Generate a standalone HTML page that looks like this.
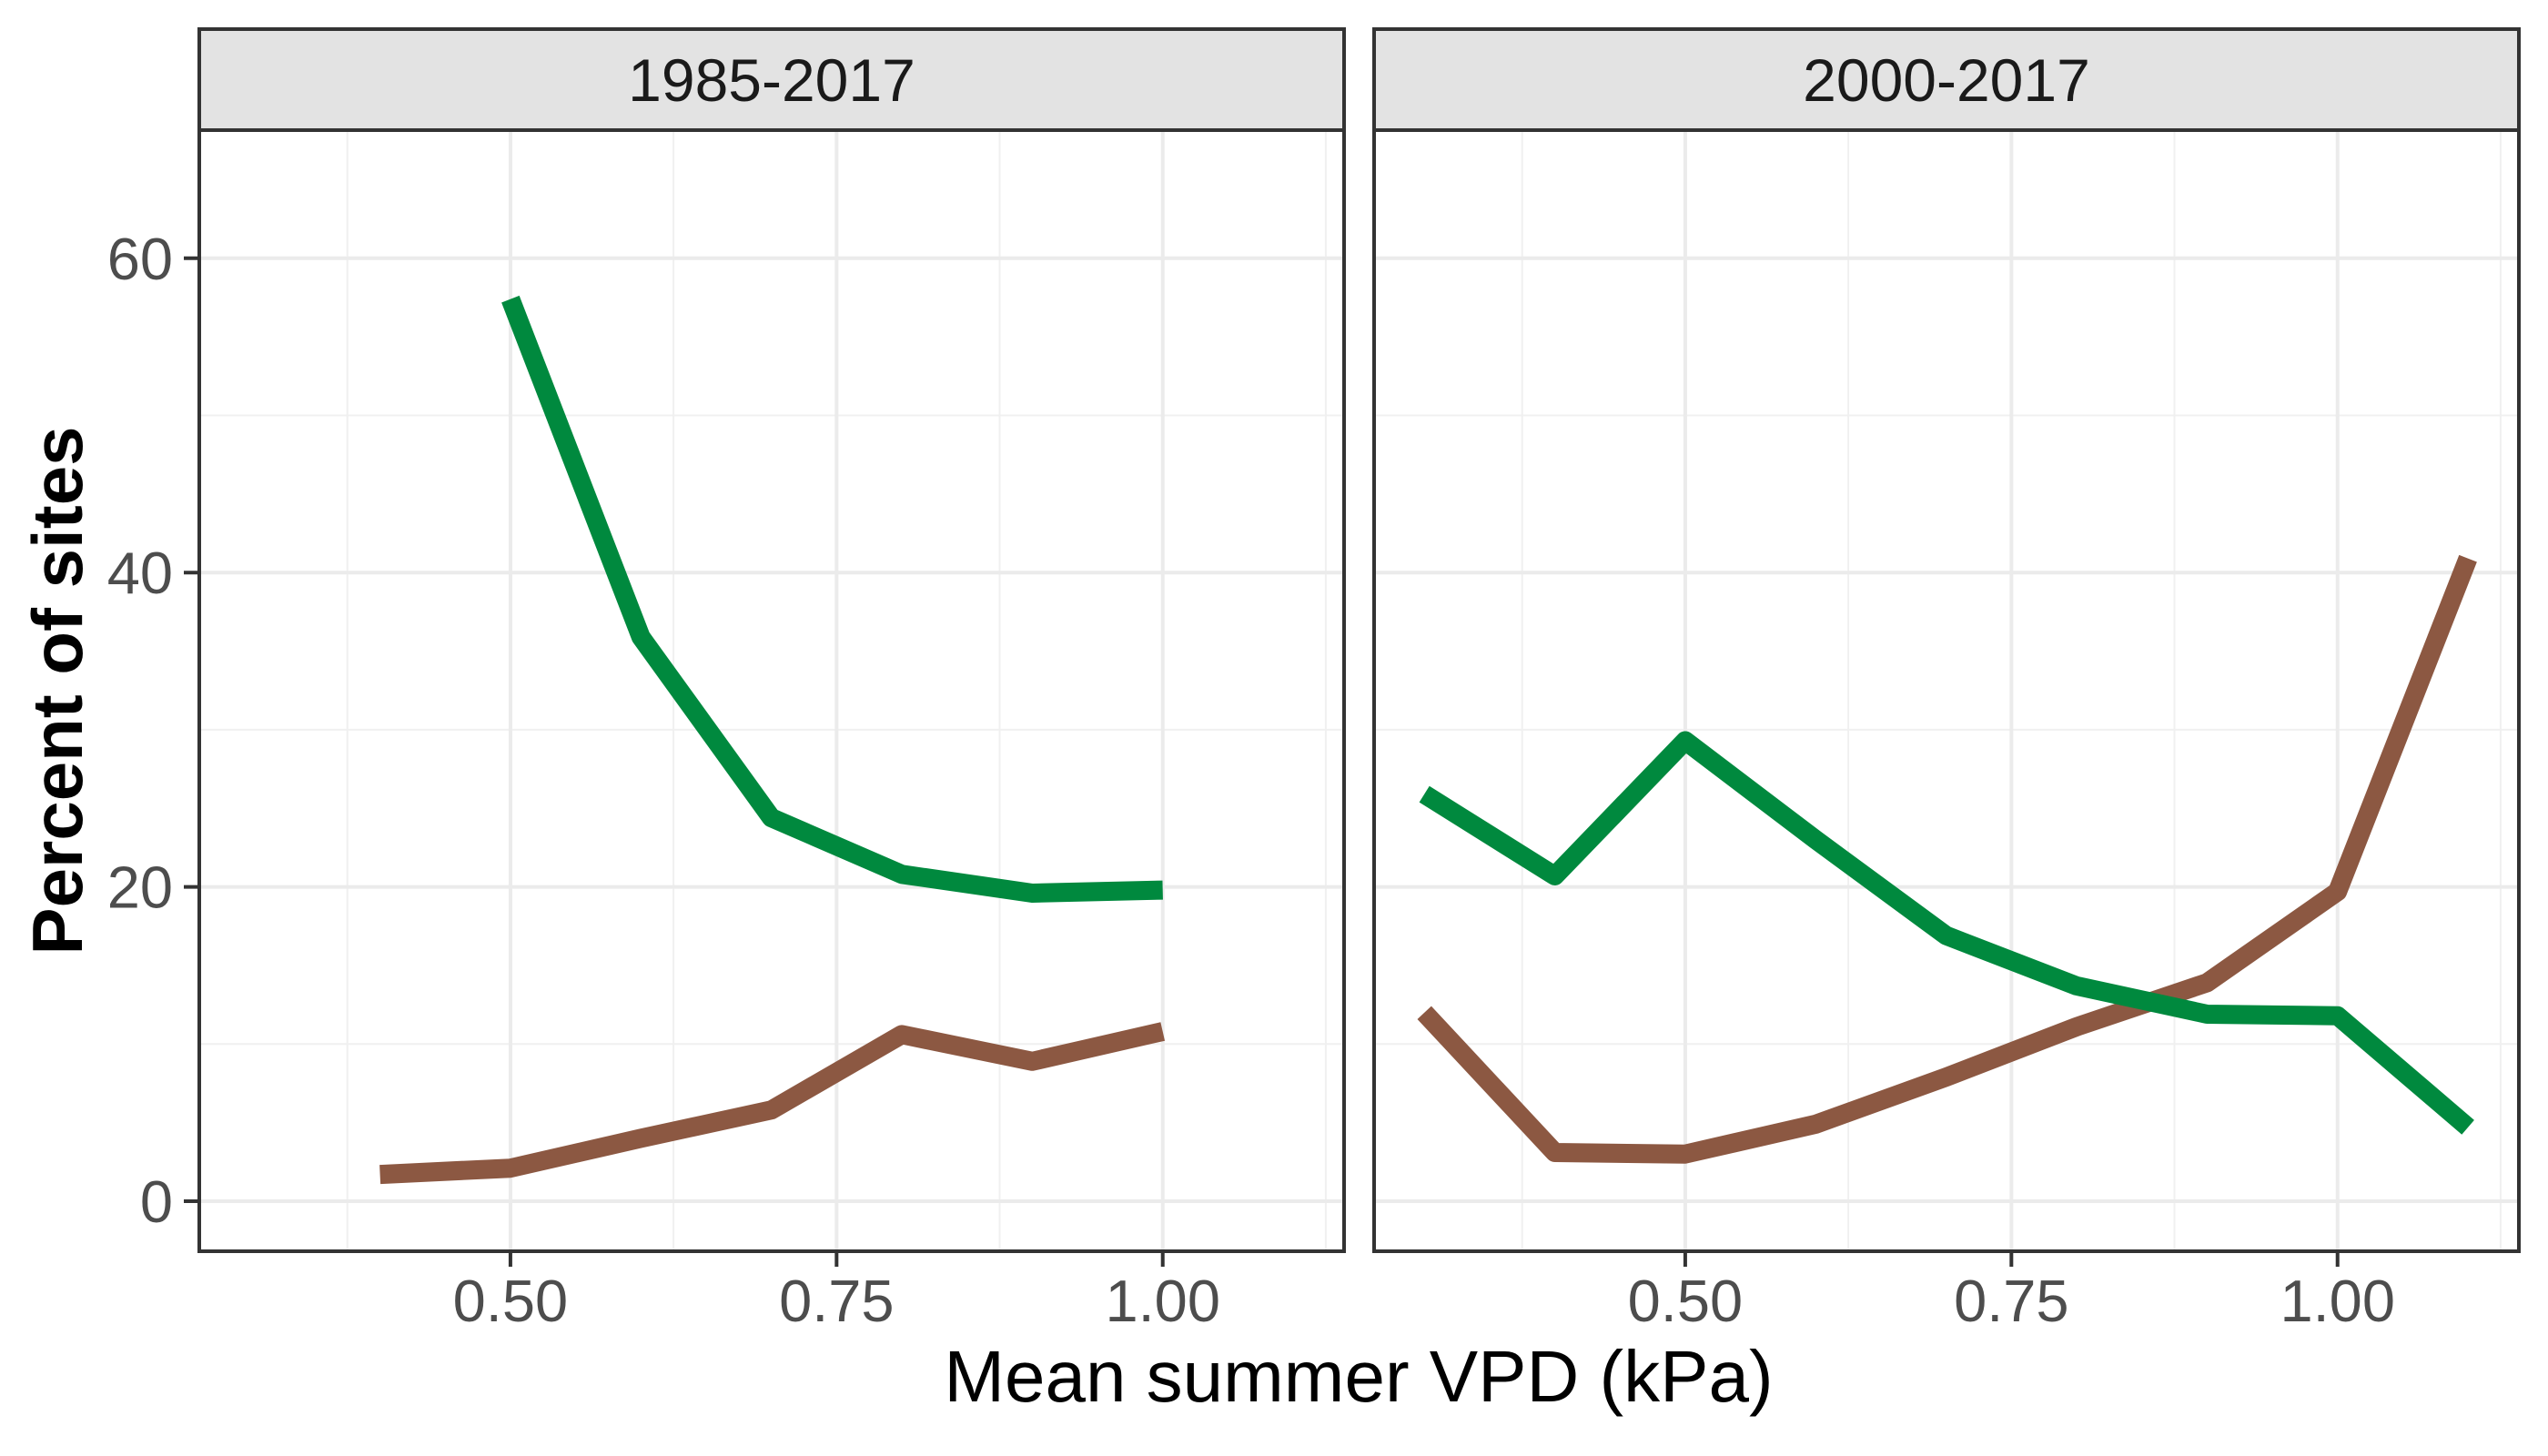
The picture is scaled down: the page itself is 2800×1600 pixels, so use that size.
<!DOCTYPE html>
<html><head><meta charset="utf-8"><style>
html,body{margin:0;padding:0;background:#fff;}
svg{display:block;}
text{font-family:"Liberation Sans",Arial,sans-serif;}
</style></head><body>
<svg id="chart" width="2800" height="1600" viewBox="0 0 2800 1600" xmlns="http://www.w3.org/2000/svg"></svg>
<script>
const panelTitles = ["1985-2017", "2000-2017"];
const xP1 = [0.4, 0.5, 0.6, 0.7, 0.8, 0.9, 1.0];
const brownP1 = [1.7, 2.1, 4.0, 5.8, 10.6, 8.9, 10.8];
const xP1g = [0.5, 0.6, 0.7, 0.8, 0.9, 1.0];
const greenP1 = [57.4, 35.9, 24.4, 20.8, 19.6, 19.8];
const xP2 = [0.3, 0.4, 0.5, 0.6, 0.7, 0.8, 0.9, 1.0, 1.1];
const brownP2 = [12.0, 3.1, 3.0, 4.9, 7.9, 11.1, 13.9, 19.7, 40.9];
const greenP2 = [25.9, 20.7, 29.3, 23.0, 16.9, 13.7, 11.9, 11.8, 4.7];
const xTicks = [0.5, 0.75, 1.0];
const xTickLabels = ["0.50", "0.75", "1.00"];
const xMinor = [0.375, 0.625, 0.875, 1.125];
const yTicks = [0, 20, 40, 60];
const yMinor = [10, 30, 50];

const NS = "http://www.w3.org/2000/svg";
const svg = document.getElementById("chart");
function mk(tag, attrs, parent) {
  const e = document.createElementNS(NS, tag);
  for (const k in attrs) e.setAttribute(k, attrs[k]);
  (parent || svg).appendChild(e);
  return e;
}
const panels = [{left:219,right:1477},{left:1510,right:2768}];
const pTop = 143, pBottom = 1375, stripTop = 32;
const xMin = 0.2615, xMax = 1.139;
function yS(v){ return 1320 - v * 17.27; }
function xS(p, v){ return p.left + (v - xMin) / (xMax - xMin) * (p.right - p.left); }

const series = [
  [{x:xP1, y:brownP1, c:"#8c5842", n:"brown-line-1985"},{x:xP1g, y:greenP1, c:"#00893e", n:"green-line-1985"}],
  [{x:xP2, y:brownP2, c:"#8c5842", n:"brown-line-2000"},{x:xP2, y:greenP2, c:"#00893e", n:"green-line-2000"}]
];

panels.forEach((p, i) => {
  const g = mk("g", {});
  
  
  mk("rect", {x:p.left, y:pTop, width:p.right-p.left, height:pBottom-pTop, fill:"#fff"}, g);
  yMinor.forEach(v => {
    const l = mk("line", {x1:p.left, x2:p.right, y1:yS(v), y2:yS(v), stroke:"#f0f0f0", "stroke-width":2}, g);
    
    
  });
  xMinor.forEach(v => {
    const l = mk("line", {x1:xS(p,v), x2:xS(p,v), y1:pTop, y2:pBottom, stroke:"#f0f0f0", "stroke-width":2}, g);
    
    
  });
  yTicks.forEach(v => {
    const l = mk("line", {x1:p.left, x2:p.right, y1:yS(v), y2:yS(v), stroke:"#ebebeb", "stroke-width":4}, g);
    
    
  });
  xTicks.forEach((v, k) => {
    const l = mk("line", {x1:xS(p,v), x2:xS(p,v), y1:pTop, y2:pBottom, stroke:"#ebebeb", "stroke-width":4}, g);
    
    
    const t = mk("line", {x1:xS(p,v), x2:xS(p,v), y1:pBottom, y2:pBottom+17, stroke:"#333", "stroke-width":4}, g);
    
    
    const tl = mk("text", {x:xS(p,v), y:1452, "text-anchor":"middle", "font-size":65, fill:"#4d4d4d"}, g);
    tl.textContent = xTickLabels[k];
    
    
  });
  series[i].forEach(s => {
    const pts = s.x.map((xv, k) => xS(p, xv).toFixed(1) + "," + yS(s.y[k]).toFixed(1)).join(" ");
    const pl = mk("polyline", {points:pts, fill:"none", stroke:s.c, "stroke-width":21, "stroke-linejoin":"round", "stroke-linecap":"butt"}, g);
    
    
  });
  const b = mk("rect", {x:p.left, y:pTop, width:p.right-p.left, height:pBottom-pTop, fill:"none", stroke:"#333", "stroke-width":4}, g);
  
  
  const st = mk("rect", {x:p.left, y:stripTop, width:p.right-p.left, height:pTop-stripTop, fill:"#e3e3e3", stroke:"#333", "stroke-width":4}, g);
  
  
  const stt = mk("text", {x:(p.left+p.right)/2, y:111, "text-anchor":"middle", "font-size":66, fill:"#1a1a1a"}, g);
  stt.textContent = panelTitles[i];
  
  
});

yTicks.forEach(v => {
  const t = mk("line", {x1:202, x2:219, y1:yS(v), y2:yS(v), stroke:"#333", "stroke-width":4});
  
  
  const tl = mk("text", {x:190, y:yS(v)+23, "text-anchor":"end", "font-size":65, fill:"#4d4d4d"});
  tl.textContent = String(v);
  
  
});

const xt = mk("text", {x:1493, y:1540, "text-anchor":"middle", "font-size":80, fill:"#000"});
xt.textContent = "Mean summer VPD (kPa)";


const yt = mk("text", {x:0, y:0, "text-anchor":"middle", "font-size":78, "font-weight":"bold", fill:"#000", transform:"translate(90,759) rotate(-90)"});
yt.textContent = "Percent of sites";


</script>
</body></html>
